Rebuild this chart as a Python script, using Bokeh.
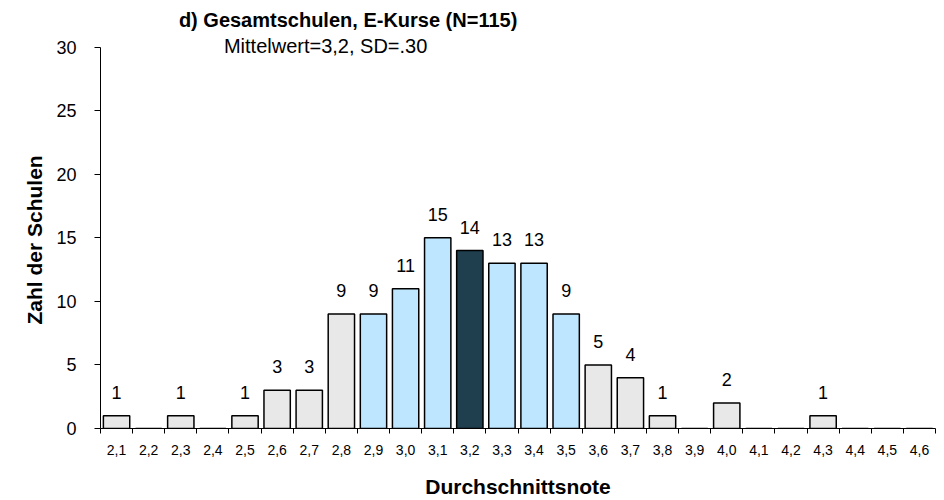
import numpy as np
from bokeh.plotting import figure
from bokeh.models import ColumnDataSource, FixedTicker, Range1d, Label, LabelSet, Title
from bokeh.core.properties import value
from bokeh.embed import file_html
from bokeh.resources import INLINE

categories = ["2,1", "2,2", "2,3", "2,4", "2,5", "2,6", "2,7", "2,8", "2,9", "3,0",
              "3,1", "3,2", "3,3", "3,4", "3,5", "3,6", "3,7", "3,8", "3,9", "4,0",
              "4,1", "4,2", "4,3", "4,4", "4,5", "4,6"]
counts = [1, 0, 1, 0, 1, 3, 3, 9, 9, 11,
          15, 14, 13, 13, 9, 5, 4, 1, 0, 2,
          0, 0, 1, 0, 0, 0]
groups = ["out", "out", "out", "out", "out", "out", "out", "out", "mid", "mid",
          "mid", "mean", "mid", "mid", "mid", "out", "out", "out", "out", "out",
          "out", "out", "out", "out", "out", "out"]
title_text = "d) Gesamtschulen, E-Kurse (N=115)"
subtitle_text = "Mittelwert=3,2, SD=.30"
x_label = "Durchschnittsnote"
y_label = "Zahl der Schulen"
y_ticks = [0, 5, 10, 15, 20, 25, 30]

palette = {"out": "#E8E8E8", "mid": "#BFE6FF", "mean": "#1F3F4F"}

n = len(categories)
xpos = np.arange(n) + 0.5
src = ColumnDataSource(dict(
    x=xpos, top=counts,
    color=[palette[g] for g in groups],
    lab=[str(c) if c > 0 else "" for c in counts],
))

FONT = "Liberation Sans"

p = figure(width=940, height=500, output_backend="svg", toolbar_location=None,
           x_range=Range1d(0, n), y_range=Range1d(0, 33.67),
           min_border_left=100, min_border_right=5, min_border_top=0, min_border_bottom=72)
p.outline_line_color = None
p.xgrid.grid_line_color = None
p.ygrid.grid_line_color = None
p.background_fill_color = "white"

p.vbar(x="x", top="top", width=0.82, bottom=0, source=src,
       fill_color="color", line_color="black", line_width=1.5)

labels = LabelSet(x="x", y="top", text="lab", source=src, text_align="center",
                  text_baseline="alphabetic", y_offset=17,
                  text_font=value(FONT), text_font_size=value("18px"), text_color="black")
p.add_layout(labels)

# x axis: labels at category centers, tick marks at category boundaries
xa = p.xaxis[0]
xa.ticker = FixedTicker(ticks=list(xpos), minor_ticks=list(range(n + 1)))
xa.major_label_overrides = {float(x): c for x, c in zip(xpos, categories)}
xa.major_tick_out = 0
xa.major_tick_in = 0
xa.minor_tick_out = 5
xa.minor_tick_in = 0
xa.minor_tick_line_color = "black"
xa.axis_line_color = "black"
xa.major_label_text_font = FONT
xa.major_label_text_font_size = "14px"
xa.major_label_text_color = "black"
xa.major_label_standoff = 11
xa.axis_label = x_label
xa.axis_label_text_font = FONT
xa.axis_label_text_font_style = "bold"
xa.axis_label_text_font_size = "21px"
xa.axis_label_text_color = "black"
xa.axis_label_standoff = 17

ya = p.yaxis[0]
ya.ticker = FixedTicker(ticks=y_ticks, minor_ticks=[])
ya.bounds = (0, 30)
ya.major_tick_out = 6
ya.major_tick_in = 0
ya.major_tick_line_color = "black"
ya.axis_line_color = "black"
ya.major_label_text_font = FONT
ya.major_label_text_font_size = "18px"
ya.major_label_text_color = "black"
ya.major_label_standoff = 18
ya.axis_label = None

# y-axis title, centred on the 0..30 part of the axis
p.add_layout(Title(text=y_label, align="left", offset=104, standoff=16,
                   text_font=FONT, text_font_style="bold", text_font_size="21px",
                   text_color="black"), "left")

p.add_layout(Label(x=7.71, y=32.1, text=title_text, text_align="center",
                   text_baseline="alphabetic", text_font=FONT, text_font_style="bold",
                   text_font_size="20px", text_color="black"))
p.add_layout(Label(x=7.01, y=30.06, text=subtitle_text, text_align="center",
                   text_baseline="alphabetic", text_font=FONT,
                   text_font_size="20px", text_color="black"))

open("out.html", "w").write(file_html(p, INLINE))
